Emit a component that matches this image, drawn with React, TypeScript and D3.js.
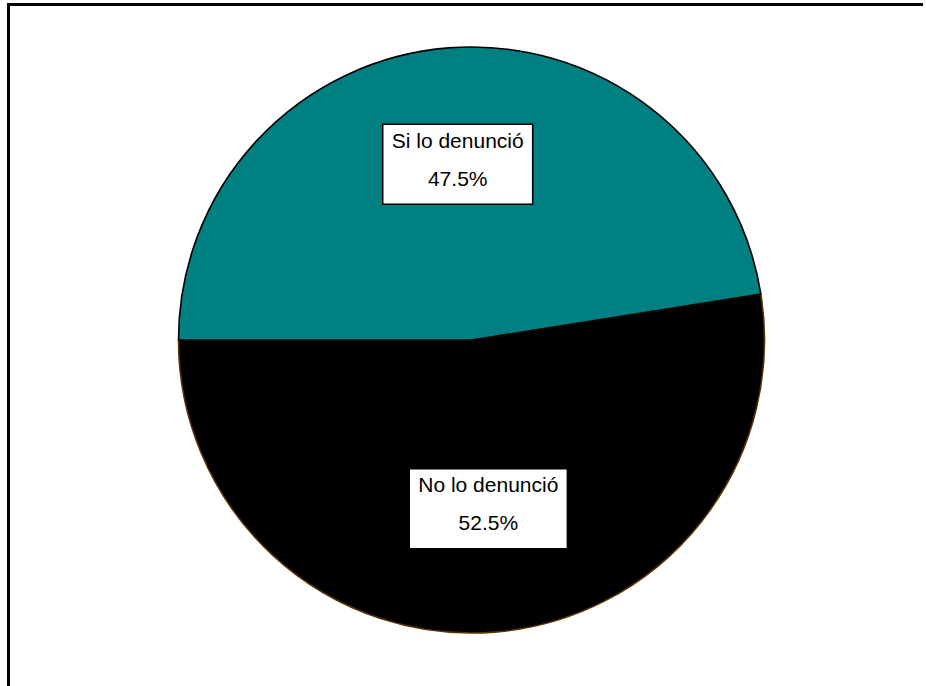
import React, { useEffect, useRef } from "react";
import * as d3 from "d3";

const categories = ["Si lo denunció", "No lo denunció"];
const values = [47.5, 52.5];
const valueLabels = ["47.5%", "52.5%"];
const colors = ["#008080", "#000000"];
const strokes = ["#000000", "#5a3200"];

const W = 926;
const H = 686;

export default function App() {
  const ref = useRef<SVGSVGElement | null>(null);

  useEffect(() => {
    const svg = d3.select(ref.current);
    svg.selectAll("*").remove();

    const cx = 471.5, cy = 340, r = 293;
    const data = categories.map((c, i) => ({ c, v: values[i], lab: valueLabels[i], i }));
    const pie = d3.pie<any>().value((d) => d.v).sort(null).startAngle(-Math.PI / 2).endAngle(1.5 * Math.PI);
    const arcs = pie(data);
    const arc = d3.arc<any>().innerRadius(0).outerRadius(r);
    const labelArc = d3.arc<any>().innerRadius(r * 0.6).outerRadius(r * 0.6);

    const g = svg.append("g").attr("transform", `translate(${cx},${cy})`);
    [1, 0].forEach((idx) => {
      const a = arcs[idx];
      g.append("path")
        .attr("d", arc(a) as string)
        .attr("fill", colors[idx])
        .attr("stroke", strokes[idx])
        .attr("stroke-width", 1.6)
        .attr("stroke-linejoin", "round");
    });

    arcs.forEach((a, idx) => {
      const [lx0, ly0] = labelArc.centroid(a);
      const lx = lx0 + (idx === 1 ? 3 : 0);
      const ly = ly0 + (idx === 1 ? -6 : 0);
      const lg = g.append("g").attr("transform", `translate(${lx},${ly})`);
      const rect = lg.append("rect").attr("fill", "#fff").attr("stroke", "#000").attr("stroke-width", 1.5);
      const t1 = lg.append("text")
        .attr("text-anchor", "middle")
        .attr("y", -17)
        .attr("font-family", "'Liberation Sans', Arial, sans-serif")
        .attr("font-size", 21)
        .attr("fill", "#000")
        .text(a.data.c);
      lg.append("text")
        .attr("text-anchor", "middle")
        .attr("y", 21)
        .attr("font-family", "'Liberation Sans', Arial, sans-serif")
        .attr("font-size", 21)
        .attr("fill", "#000")
        .text(a.data.lab);
      const tw = (t1.node() as SVGTextElement).getComputedTextLength();
      const bw = tw + 18;
      const bh = 80;
      rect.attr("x", -bw / 2).attr("y", -40.5).attr("width", bw).attr("height", bh);
    });

    svg.append("path")
      .attr("d", `M8.5,${H + 10} L8.5,4.5 L923,4.5`)
      .attr("fill", "none")
      .attr("stroke", "#000")
      .attr("stroke-width", 3);
  }, []);

  return (
    <svg
      ref={ref}
      width={W}
      height={H}
      style={{ position: "absolute", left: 0, top: 0, background: "#fff" }}
    />
  );
}
